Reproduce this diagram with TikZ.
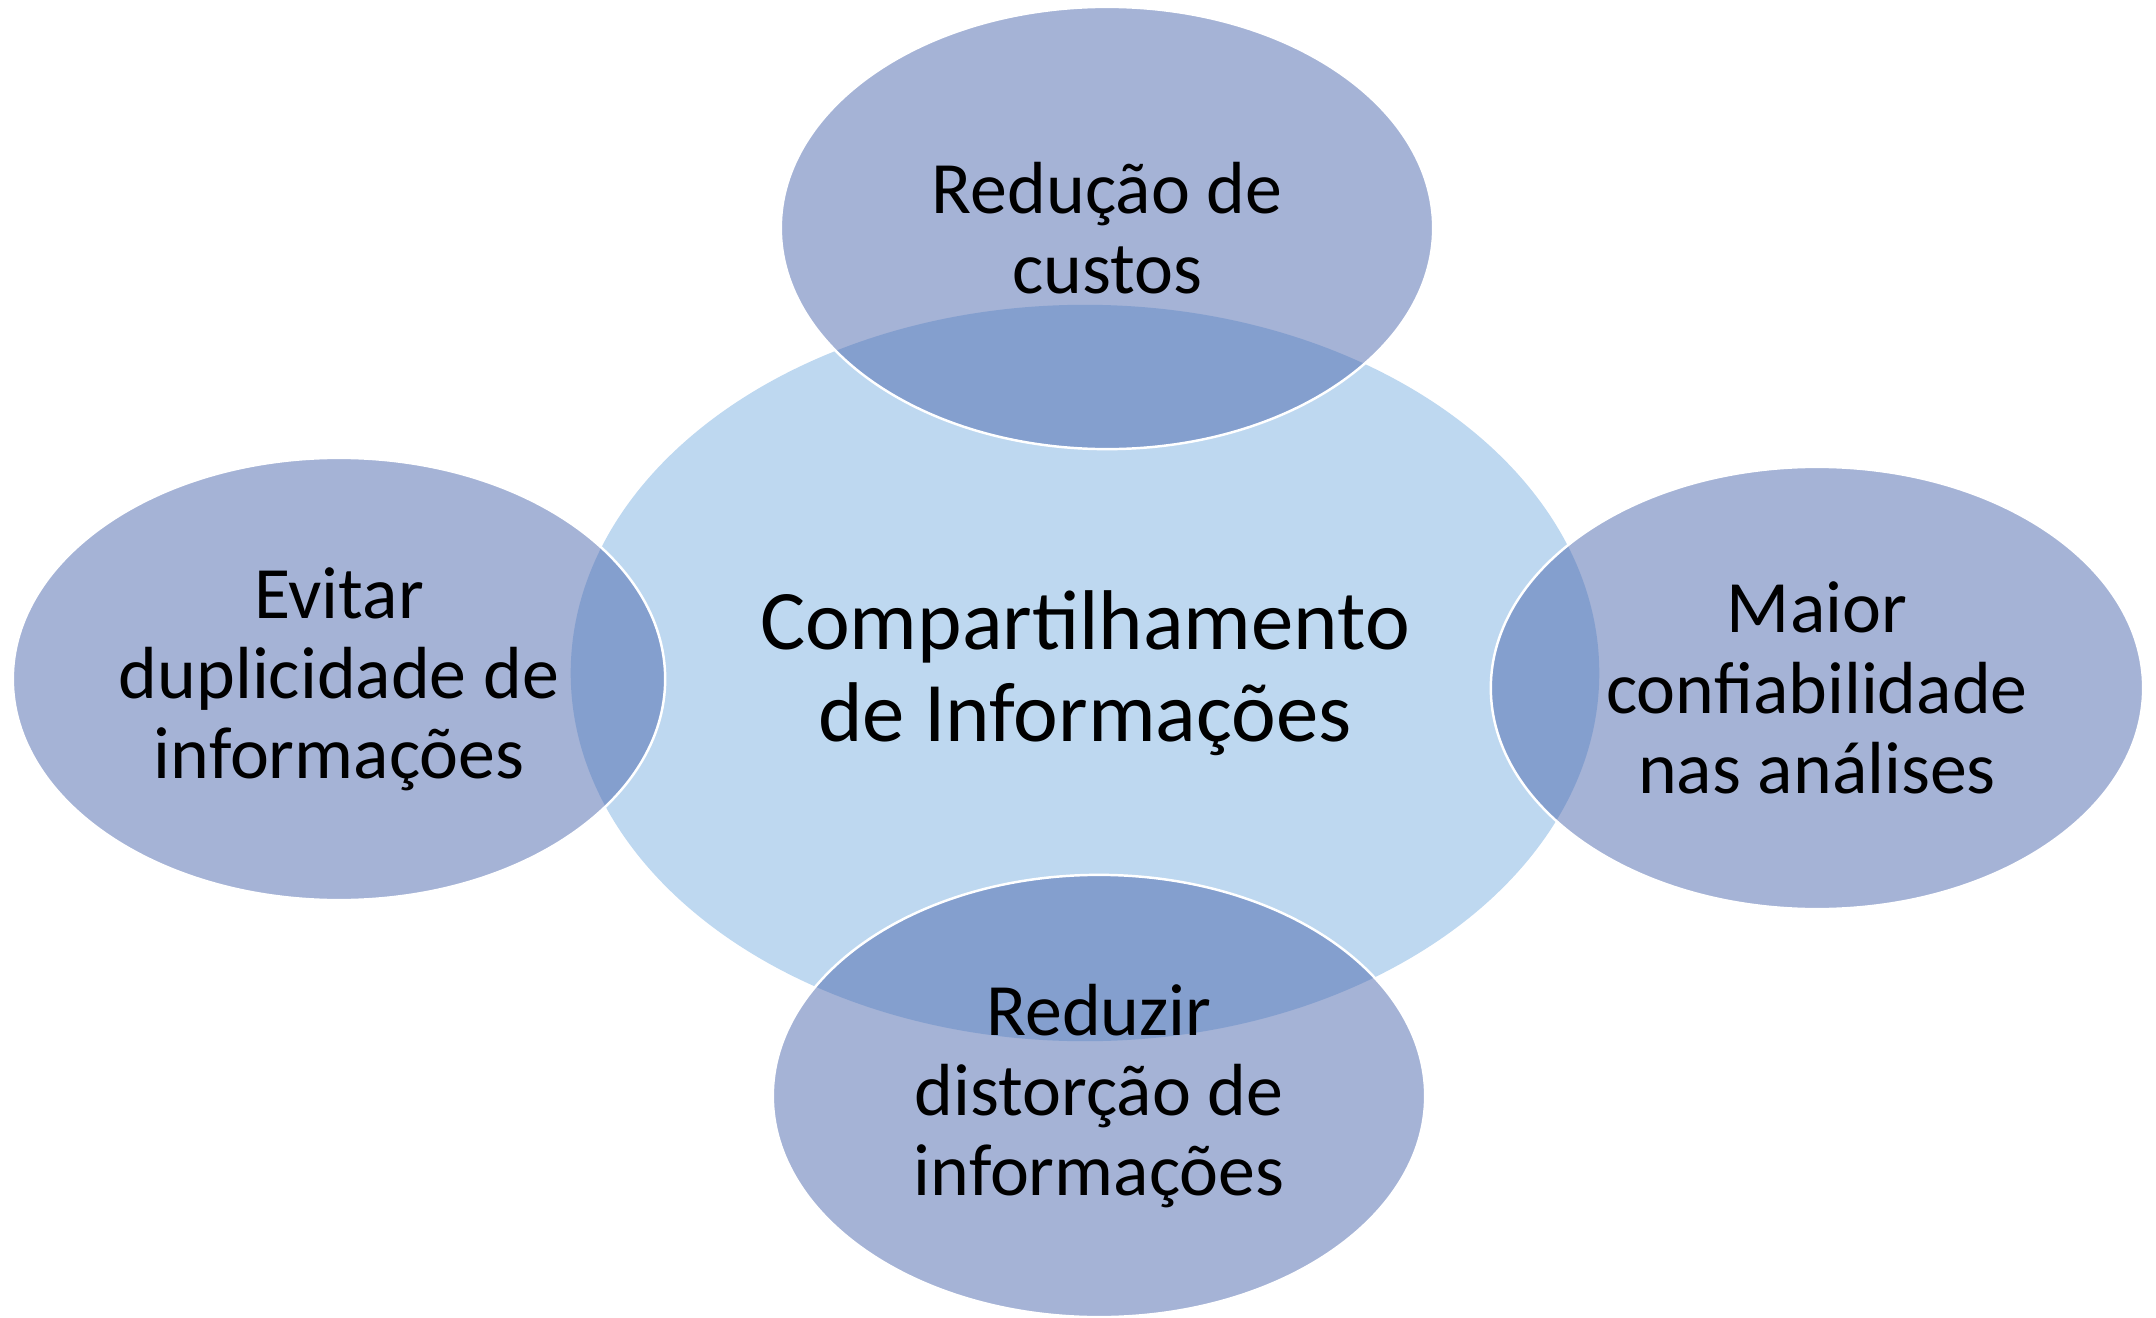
\documentclass[tikz,border=0pt]{standalone}
\usepackage{fontspec}
\setmainfont{Carlito}
\usetikzlibrary{shapes.geometric}

\definecolor{hubblue}{RGB}{190,216,240}
\definecolor{petalblue}{RGB}{75,103,173}

\begin{document}
\begin{tikzpicture}[x=0.01cm,y=-0.01cm,
    hub/.style={ellipse,fill=hubblue,inner sep=0pt,align=center,
      minimum width=10.28cm,minimum height=7.36cm,
      font=\fontsize{24.1}{26.2}\selectfont},
    petal/.style={ellipse,fill=petalblue,fill opacity=0.5,text opacity=1,
      draw=white,line width=0.7pt,inner sep=0pt,align=center,
      minimum width=6.52cm,minimum height=4.42cm,
      font=\fontsize{21}{22.8}\selectfont}]
  \useasboundingbox (0,0) rectangle (2156,1318);

  \node[hub] (share) at (1085,673) {Compartilhamento\\de Informações};

  \node[petal] (costs) at (1107,228) {Redução de\\custos};
  \node[petal] (dup) at (339,679) {Evitar\\duplicidade de\\informações};
  \node[petal] (trust) at (1817,688) {Maior\\confiabilidade\\nas análises};
  \node[petal] (distort) at (1099,1096) {Reduzir\\distorção de\\informações};
\end{tikzpicture}
\end{document}
